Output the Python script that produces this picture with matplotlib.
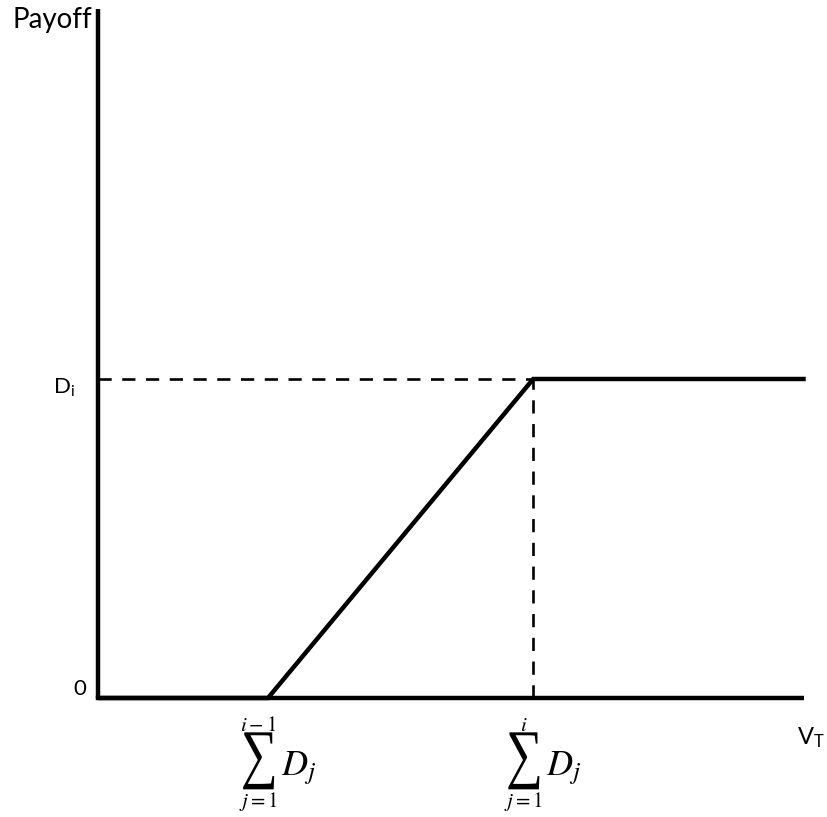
import matplotlib.pyplot as plt
from matplotlib.textpath import TextPath
from matplotlib.font_manager import FontProperties
from matplotlib.patches import PathPatch
from matplotlib.transforms import Affine2D

plt.rcParams['font.family'] = ['Lato', 'DejaVu Sans']
plt.rcParams['mathtext.fontset'] = 'stix'

# payoff of tranche i against terminal asset value
lower = 1.0      # sum of D_j up to i-1
upper = 2.56     # sum of D_j up to i
d_i = 1.0        # tranche face value
x_end = 4.15
y_top = 2.16

payoff_x = [0, lower, upper, x_end]
payoff_y = [0, 0, d_i, d_i]

fig = plt.figure(figsize=(8.28, 8.17), dpi=100)
ax = fig.add_axes([0, 0, 1, 1])
ax.set_xlim(-98 / 170, (828 - 98) / 170)
ax.set_ylim(-(817 - 698) / 319, 698 / 319)
ax.axis('off')

# axes drawn by hand
ax.plot([0, 0], [0, y_top], color='black', lw=3.2, solid_capstyle='butt')
ax.plot([0, x_end], [0, 0], color='black', lw=3.2, solid_capstyle='butt')

# guide lines
ax.plot([0, upper], [d_i, d_i], color='black', lw=1.9, ls=(0, (5, 4)))
ax.plot([upper, upper], [0, d_i], color='black', lw=1.9, ls=(0, (5, 4)))

ax.plot(payoff_x, payoff_y, color='black', lw=3.2, solid_joinstyle='miter')

ax.text(-0.5, 2.10, 'Payoff', fontsize=20, ha='left', va='baseline')
ax.text(-0.265, d_i - 0.045, r'D$_\mathregular{i}$', fontsize=16, ha='left', va='baseline')
ax.text(-0.147, 0.009, '0', fontsize=16, ha='left', va='baseline')
ax.text(4.11, -0.147, r'V$_\mathregular{T}$', fontsize=17, ha='left', va='baseline')

# a tall, narrow summation sign built from a glyph outline
sigma = TextPath((0, 0), '\u2211', size=1, prop=FontProperties(family='Liberation Serif'))
bb = sigma.get_extents()
sigma_w, sigma_h = 31 / 170, 57 / 319


def sum_label(x, top):
    # summation sign with limits stacked above and below, then D_j
    sx = x - 0.055
    sy = -0.197
    tr = (Affine2D()
          .translate(-bb.x0 - bb.width / 2, -bb.y0 - bb.height / 2)
          .scale(sigma_w / bb.width, sigma_h / bb.height)
          .translate(sx, sy))
    ax.add_patch(PathPatch(tr.transform_path(sigma), color='black', lw=0))
    ax.text(sx, -0.085, top, fontsize=15, ha='center', va='center',
            math_fontfamily='stix')
    ax.text(sx + 0.13, -0.241, r'$D_j$', fontsize=26, ha='left', va='baseline',
            math_fontfamily='stix')
    ax.text(sx, -0.326, r'$j=1$', fontsize=15, ha='center', va='center',
            math_fontfamily='stix')


sum_label(lower, r'$i-1$')
sum_label(upper, r'$i$')

fig.savefig('out.png', dpi=100)
